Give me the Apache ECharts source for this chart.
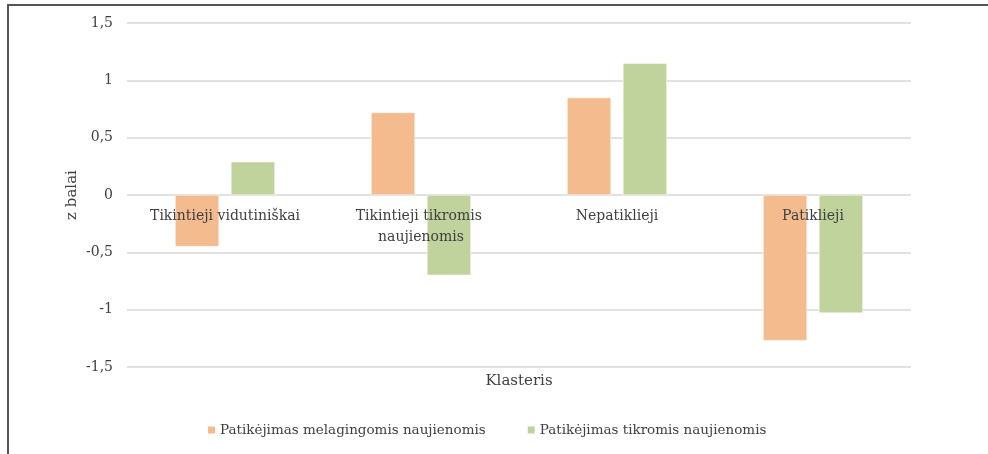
<!DOCTYPE html>
<html>
<head>
<meta charset="utf-8">
<script src="https://cdn.jsdelivr.net/npm/echarts@6/dist/echarts.min.js"></script>
<style>
  html, body { margin: 0; padding: 0; background: #fff; }
  #wrap { position: relative; width: 988px; height: 454px; overflow: hidden; }
  #frame { position: absolute; left: 7px; top: 4px; width: 1000px; height: 500px;
           border-left: 2px solid #555; border-top: 2px solid #555; }
  #chart { position: absolute; left: 0; top: 0; width: 988px; height: 454px; }
</style>
</head>
<body>
<div id="wrap">
  <div id="frame"></div>
  <div id="chart"></div>
</div>
<script>
// klasteriai
const clusters = ['Tikintieji vidutiniškai', 'Tikintieji tikromis naujienomis', 'Nepatiklieji', 'Patiklieji'];
const seriesNames = ['Patikėjimas melagingomis naujienomis', 'Patikėjimas tikromis naujienomis'];
const fakeNews = [-0.45, 0.72, 0.85, -1.27];
const realNews = [0.29, -0.70, 1.15, -1.03];

const font = 'DejaVu Serif';
const txt = '#404040';

const chart = echarts.init(document.getElementById('chart'));

const option = {
    backgroundColor: 'transparent',
    textStyle: { fontFamily: font, color: txt },
    color: ['#f4bc8e', '#c1d39d'],
    grid: { left: 127, right: 77, top: 23, bottom: 87 },
    title: {
        text: 'Klasteris',
        left: 519,
        top: 374,
        textAlign: 'center',
        padding: 0,
        textStyle: { fontFamily: font, fontSize: 15, fontWeight: 'normal', color: txt }
    },
    legend: {
        bottom: 17,
        left: 206,
        padding: 0,
        itemWidth: 9,
        itemHeight: 9,
        itemGap: 40,
        icon: 'rect',
        textStyle: { fontFamily: font, fontSize: 13.5, color: txt, padding: [0, 0, 0, -1] },
        data: seriesNames
    },
    xAxis: {
        type: 'category',
        data: clusters,
        z: 10,
        // etiketės ant nulio linijos (grid aukštis 344 -> nulis per vidurį)
        offset: -172,
        axisLine: { show: false, onZero: false },
        axisTick: { show: false },
        axisLabel: {
            interval: 0,
            margin: 11,
            fontFamily: font,
            fontSize: 14,
            color: txt,
            width: 170,
            overflow: 'break',
            lineHeight: 21
        }
    },
    yAxis: {
        type: 'value',
        min: -1.5,
        max: 1.5,
        interval: 0.5,
        name: 'z balai',
        nameLocation: 'middle',
        nameGap: 47,
        nameMoveOverlap: false,
        nameTextStyle: { fontFamily: font, fontSize: 15, color: txt },
        axisLine: { show: false },
        axisTick: { show: false },
        axisLabel: {
            margin: 14,
            fontFamily: font,
            fontSize: 14,
            color: txt,
            formatter: v => String(v).replace('.', ',')
        },
        splitLine: { lineStyle: { color: '#d9d9d9', width: 1.5 } }
    },
    series: [
        {
            name: seriesNames[0],
            type: 'bar',
            data: fakeNews,
            barWidth: 44,
            barGap: '27%',
            itemStyle: { borderColor: '#fff', borderWidth: 0.5 }
        },
        {
            name: seriesNames[1],
            type: 'bar',
            data: realNews,
            barWidth: 44,
            barGap: '27%',
            itemStyle: { borderColor: '#fff', borderWidth: 0.5 }
        }
    ]
};

chart.setOption(option);
</script>
</body>
</html>
